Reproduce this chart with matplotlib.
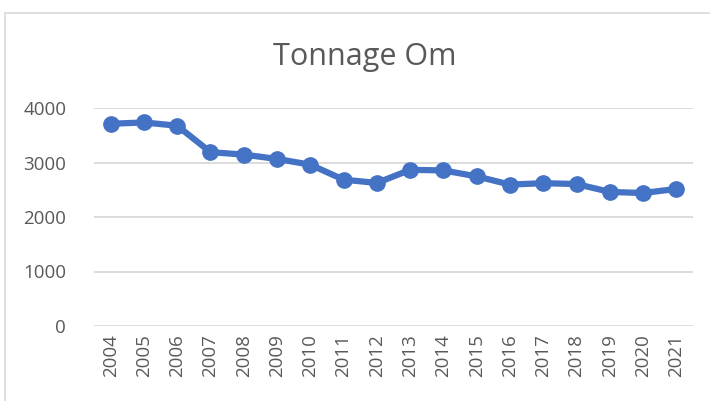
import matplotlib.pyplot as plt
from matplotlib.patches import Rectangle

years = [str(y) for y in range(2004, 2022)]
tonnage = [3710, 3735, 3675, 3190, 3145, 3065, 2960, 2685, 2625,
           2865, 2855, 2745, 2595, 2620, 2605, 2460, 2440, 2515]
yticks = [0, 1000, 2000, 3000, 4000]

fig = plt.figure(figsize=(7.1, 4.01), dpi=100)
fig.patches.append(Rectangle((5 / 710, -0.1), 1.0, 1 - 13 / 401 + 0.1,
                             transform=fig.transFigure, fill=False,
                             edgecolor="#D9D9D9", linewidth=1.2))

ax = fig.add_axes([94 / 710, 1 - 326 / 401, 599 / 710, 218 / 401])
x = list(range(len(years)))
ax.plot(x, tonnage, color="#4472C4", linewidth=4.5, marker="o",
        markersize=11, solid_capstyle="round", zorder=3)

ax.set_xlim(-0.5, len(years) - 0.5)
ax.set_ylim(0, 4000)
ax.set_yticks(yticks)
ax.set_xticks(x)
ax.set_xticklabels(years, rotation=90)
ax.grid(axis="y", color="#D9D9D9", linewidth=1.3)
ax.set_axisbelow(True)
for s in ax.spines.values():
    s.set_visible(False)
ax.tick_params(length=0, colors="#595959", labelsize=13.5)
ax.tick_params(axis="y", pad=20)
ax.tick_params(axis="x", pad=6)
for lab in ax.get_xticklabels() + ax.get_yticklabels():
    lab.set_fontfamily("Open Sans")

fig.text(365 / 710, 1 - 57 / 401, "Tonnage Om", ha="center", va="center",
         fontsize=22, color="#595959", fontfamily="Open Sans")

fig.savefig("out.png", dpi=100)
